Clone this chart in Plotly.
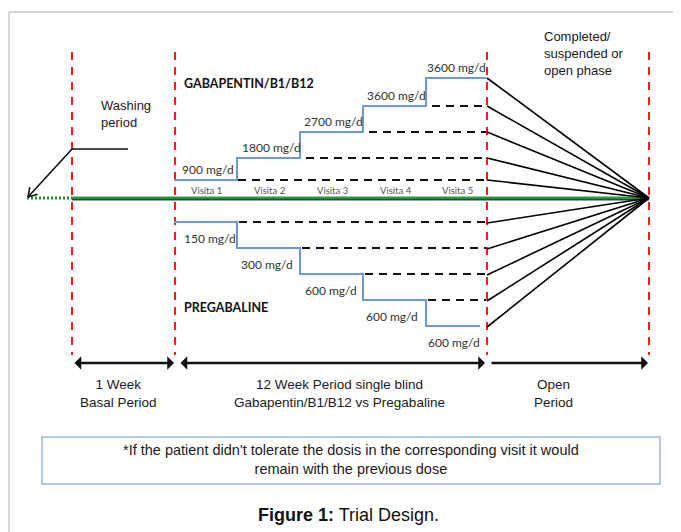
import math
import plotly.graph_objects as go

# ---- content ----
visits = ["Visita 1", "Visita 2", "Visita 3", "Visita 4", "Visita 5"]
gaba_doses = ["900 mg/d", "1800 mg/d", "2700 mg/d", "3600 mg/d", "3600 mg/d"]
prega_doses = ["150 mg/d", "300 mg/d", "600 mg/d", "600 mg/d", "600 mg/d"]
period_labels = ["1 Week<br>Basal Period",
                 "12 Week Period single blind<br>Gabapentin/B1/B12 vs Pregabaline",
                 "Open<br>Period"]

# ---- geometry (pixel space of the diagram) ----
W, H = 681, 532
OFF = 8                                          # page body margin
bounds = [174, 237, 300, 363, 426, 486]          # visit boundaries
gaba_y = [180, 158, 132, 106, 78]                # dose level rows
prega_y = [222, 248, 274, 300, 326]
red_x = [72, 175, 487, 649]
axis_y = 198
hub = (649, 198)

FONT = "Liberation Sans"
CAL = "Lato"
fig = go.Figure()

def line(xs, ys, color, width, dash="solid", shape="linear"):
    fig.add_trace(go.Scatter(x=xs, y=ys, mode="lines",
                             line=dict(color=color, width=width, dash=dash, shape=shape),
                             hoverinfo="skip", showlegend=False))

# red dashed vertical lines
for x in red_x:
    line([x, x], [52, 355], "#ff1a1a", 2, dash="8px,7px")

# green time axis
line([72, hub[0]], [axis_y + 0.8, axis_y + 0.8], "#34453a", 3.6)
line([72, hub[0]], [axis_y - 0.4, axis_y - 0.4], "#22a03a", 2.2)
line([27, 72], [axis_y, axis_y], "#1f8a35", 3, dash="2px,2px")

# fan lines to the hub
for y in gaba_y + prega_y:
    line([487, hub[0]], [y + (1 if y > axis_y else 0), hub[1]], "#000000", 1.6)

# gabapentin steps
line(bounds, gaba_y + [gaba_y[-1]], "#6d98d0", 2, shape="hv")
for i in range(4):
    line([bounds[i + 1] + (1 if i == 0 else 6), 486], [gaba_y[i], gaba_y[i]], "#111111", 2, dash="8px,6px")

# pregabaline steps
px = bounds[:-1] + [480]
line(px, prega_y + [prega_y[-1]], "#6d98d0", 2, shape="hv")
for i in range(4):
    line([bounds[i + 1] + 2, 486], [prega_y[i], prega_y[i]], "#111111", 2, dash="8px,6px")

# washing-period arrow with open chevron head
tail, head = (72, 149), (28, 197)
line([128, tail[0], head[0]], [tail[1], tail[1], head[1]], "#111111", 1.6)
dx, dy = tail[0] - head[0], tail[1] - head[1]
ang = math.atan2(dy, dx)
for s in (-1, 1):
    a = ang + s * math.radians(32)
    line([head[0], head[0] + 10 * math.cos(a)], [head[1], head[1] + 10 * math.sin(a)], "#111111", 1.6)

ann = []
def text(x, y, s, size, color="#1a1a1a", family=FONT, xanchor="left", align="left"):
    ann.append(dict(x=x, y=y, text=s, showarrow=False, xanchor=xanchor, yanchor="middle",
                    align=align, font=dict(family=family, size=size, color=color)))

# dose labels
gx_lab = [180, 240, 302, 365, 425]
for i, s in enumerate(gaba_doses):
    text(gx_lab[i], gaba_y[i] - 11, s, 12, "#333333", CAL)
px_lab = [182, 239, 303, 364, 426]
for i, s in enumerate(prega_doses):
    text(px_lab[i], prega_y[i] + 16, s, 12, "#333333", CAL)
# visits
for i, s in enumerate(visits):
    text((bounds[i] + bounds[i + 1]) / 2 + 1, 190, s, 9.5, "#555555", CAL, xanchor="center")

text(182, 83, "<b>GABAPENTIN/B1/B12</b>", 12.5, "#111111", CAL)
text(182, 307, "<b>PREGABALINE</b>", 12.5, "#111111", CAL)
text(99, 114, "Washing<br>period", 13)
text(542, 53, "Completed/<br>suspended or<br>open phase", 13)

# period labels
for cx, s in zip([118, 339, 553], period_labels):
    text(cx, 393, s, 13.5, xanchor="center", align="center")

# note box text
text(351, 459, "*If the patient didn't tolerate the dosis in the corresponding visit it would<br>"
     "remain with the previous dose", 14.5, xanchor="center", align="center")
text(348, 515, "<b>Figure 1:</b> Trial Design.", 18, "#111111", xanchor="center", align="center")

# period arrows
def arrow(x0, y0, x1, y1, side="end", width=2.5, head=1, size=0.9):
    ann.append(dict(x=x1, y=y1, ax=x0, ay=y0, xref="x", yref="y", axref="x", ayref="y",
                    text="", showarrow=True, arrowside=side, arrowhead=head, startarrowhead=head,
                    arrowsize=size, startarrowsize=size, arrowwidth=width, arrowcolor="#111111"))

arrow(73, 363, 174, 363, side="end+start")
arrow(179, 363, 485, 363, side="end+start")
arrow(490, 363, 648, 363, side="end")

fig.update_layout(annotations=ann)

shapes = [
    dict(type="rect", x0=42, x1=660, y0=437, y1=484, line=dict(color="#9ab6da", width=1.5)),
    dict(type="line", x0=9, x1=W + OFF, y0=12, y1=12, line=dict(color="#b0b0b0", width=1)),
    dict(type="line", x0=9, x1=9, y0=12, y1=H + OFF, line=dict(color="#b0b0b0", width=1)),
]
fig.update_layout(shapes=shapes)

fig.update_layout(width=W, height=H, margin=dict(l=0, r=0, t=0, b=0),
                  paper_bgcolor="white", plot_bgcolor="white",
                  xaxis=dict(range=[OFF, W + OFF], visible=False, fixedrange=True),
                  yaxis=dict(range=[H + OFF, OFF], visible=False, fixedrange=True))
fig.write_html("out.html", config={"displayModeBar": False})
